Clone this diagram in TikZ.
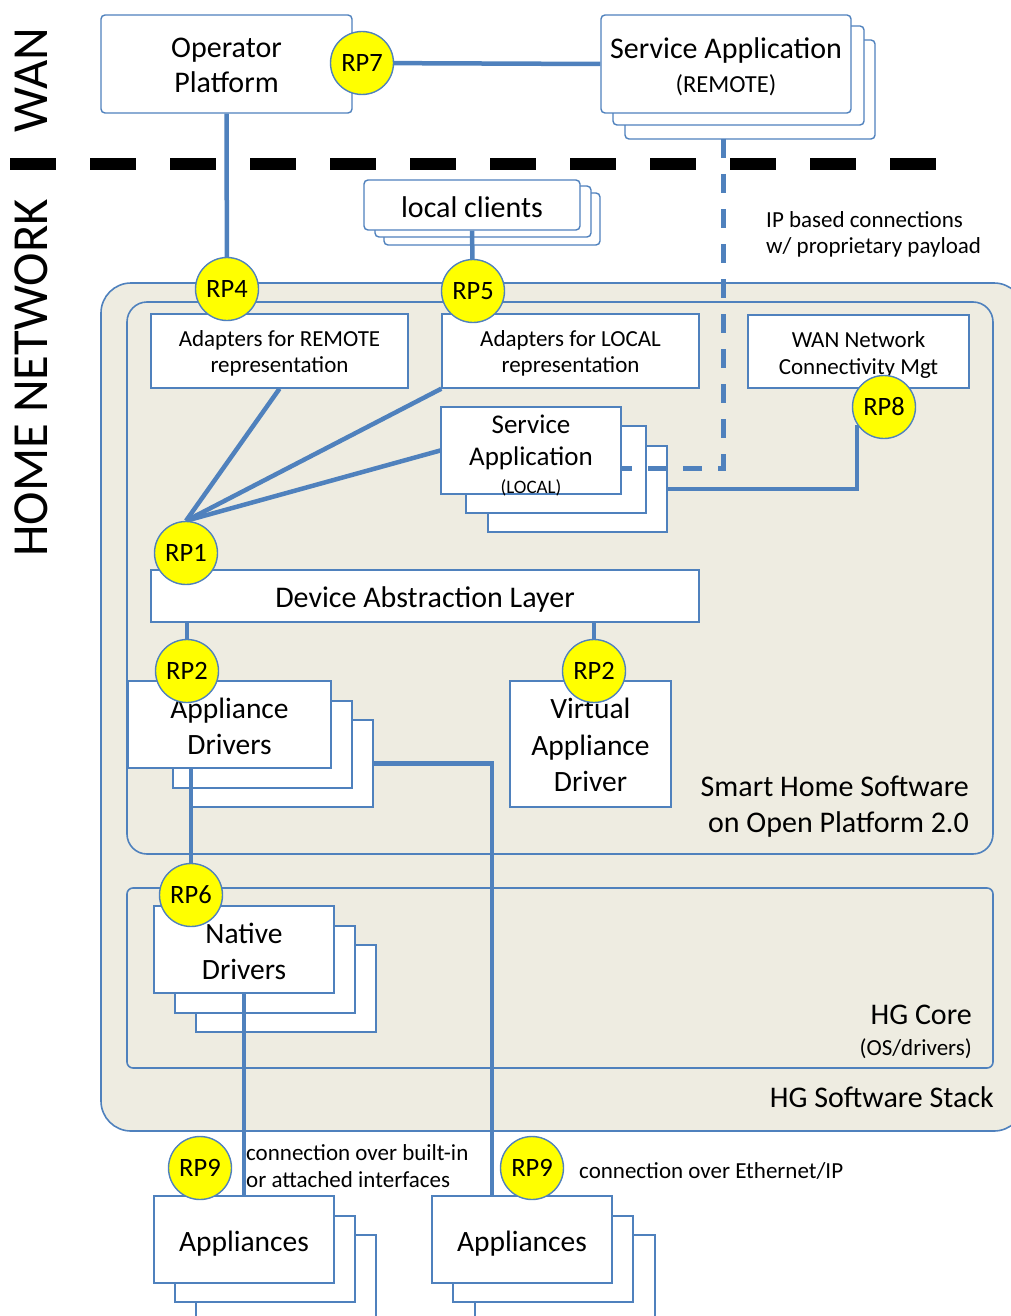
\documentclass[tikz,border=0pt]{standalone}
\usepackage{fontspec}
\setmainfont{Carlito}
\usetikzlibrary{fit}
\definecolor{lineblue}{RGB}{79,129,189}
\definecolor{stackbeige}{RGB}{238,236,225}
\definecolor{rpyellow}{RGB}{255,255,0}
\newcommand\fsz[2]{\fontsize{#1}{#2}\selectfont}
\pgfdeclarelayer{back}
\pgfdeclarelayer{links}
\pgfsetlayers{back,links,main}

\begin{document}
\begin{tikzpicture}[x=1pt,y=-1pt,
  container/.style={draw=lineblue, line width=1.6pt, fill=stackbeige},
  box/.style={draw=lineblue, line width=1.4pt, fill=white, inner sep=0pt},
  rbox/.style={box, rounded corners=4pt},
  size/.style 2 args={minimum width=#1, minimum height=#2},
  shadowbox/.style={draw=lineblue, line width=1.4pt, fill=white, inner sep=0pt},
  rshadowbox/.style={shadowbox, rounded corners=4pt},
  rp/.style={circle, draw=lineblue, line width=1.4pt, fill=rpyellow, minimum size=63, inner sep=0pt, font=\fsz{26.5}{26.5}},
  conn/.style={draw=lineblue, line width=4.5pt},
  dconn/.style={conn, line width=5pt, dash pattern=on 19pt off 16pt},
  lbl/.style={inner sep=0pt, text=black},
  boxtext/.style={lbl, align=center}
]
\useasboundingbox (0,0) rectangle (1011,1316);

\begin{pgfonlayer}{back}
% WAN / home network divider
\draw[line width=12pt, dash pattern=on 46pt off 34pt] (10,164) coordinate (divL) -- (936,164) coordinate (divR);

% software stack containers
\draw[container, rounded corners=30pt] (101,283) rectangle (1024,1131);
\draw[container, rounded corners=20pt] (127,302) rectangle (993,854);
\draw[container, rounded corners=6pt] (127,888) rectangle (993,1068);

% stacked (multiple instance) boxes, back layers
\node[rshadowbox, fit={(625,40)(875,139)}] (sar3) {};
\node[rshadowbox, fit={(613,26)(864,125)}] (sar2) {};
\node[rshadowbox, fit={(384,193)(600,245)}] (lc3) {};
\node[rshadowbox, fit={(375,186)(591,237)}] (lc2) {};
\node[shadowbox, fit={(488,446)(667,532)}] (sal3) {};
\node[shadowbox, fit={(466,426)(646,513)}] (sal2) {};
\node[shadowbox, fit={(192,720)(373,807)}] (ad3) {};
\node[shadowbox, fit={(173,701)(352,788)}] (ad2) {};
\node[shadowbox, fit={(196,945)(376,1032)}] (nd3) {};
\node[shadowbox, fit={(175,926)(355,1013)}] (nd2) {};
\node[shadowbox, fit={(196,1235)(376,1330)}] (apL3) {};
\node[shadowbox, fit={(175,1216)(355,1302)}] (apL2) {};
\node[shadowbox, fit={(475,1235)(655,1330)}] (apR3) {};
\node[shadowbox, fit={(453,1216)(633,1302)}] (apR2) {};
\end{pgfonlayer}

% side labels
\node[lbl, rotate=90, font=\fsz{50.5}{50.5}] (wan) at (31,80) {WAN};
\node[lbl, rotate=90, font=\fsz{50.5}{50.5}] (hn) at (31,378) {HOME NETWORK};

% connector end points
\coordinate (ipdrop) at (723,139);
\coordinate (ipin) at (621,468);
\coordinate (ethdrop) at (492,1196);

% front boxes
\node[rbox, size={251}{98}] (opp) at (226.5,64) {};
\node[rbox, size={250}{98}] (sar) at (726,64) {};
\node[rbox, size={216}{50}] (lc) at (472,205) {};
\node[box, size={257}{74}] (remA) at (279.5,351) {};
\node[box, size={257}{74}] (locA) at (570.5,351) {};
\node[box, size={221}{73}] (wanm) at (858.5,351.5) {};
\node[box, size={180}{87}] (sal) at (531,450.5) {};
\node[box, size={548}{52}] (dal) at (425,596) {};
\node[box, size={203}{87}] (ad) at (229.5,724.5) {};
\node[box, size={161}{126}] (vad) at (590.5,744) {};
\node[box, size={180}{87}] (nd) at (244,949.5) {};
\node[box, size={180}{87}] (apL) at (244,1239.5) {};
\node[box, size={180}{87}] (apR) at (522,1239.5) {};

% box texts
\node[boxtext, font=\fsz{30}{35}] (oppT) at ([yshift=-1pt]opp.center) {Operator\\Platform};
\node[boxtext, font=\fsz{30}{34}] (sarT) at ([yshift=-3pt]sar.center) {Service Application\\{\fsz{24.5}{34}(REMOTE)}};
\node[boxtext, font=\fsz{30}{34}] (lcT) at ([yshift=-2pt]lc.center) {local clients};
\node[boxtext, font=\fsz{23}{26}] (remAT) at ([yshift=-2pt]remA.center) {Adapters for REMOTE\\representation};
\node[boxtext, font=\fsz{23}{26}] (locAT) at ([yshift=-2pt]locA.center) {Adapters for LOCAL\\representation};
\node[boxtext, font=\fsz{23}{27}] (wanmT) at ([yshift=-3pt]wanm.center) {WAN Network\\Connectivity Mgt};
\node[boxtext, font=\fsz{27}{32}] (salT) at ([yshift=-5pt]sal.center) {Service\\Application\\[-4pt]{\fsz{19}{28}(LOCAL)}};
\node[boxtext, font=\fsz{30}{34}] (dalT) at ([yshift=-3pt]dal.center) {Device Abstraction Layer};
\node[boxtext, font=\fsz{29.5}{36}] (adT) at ([yshift=-2pt]ad.center) {Appliance\\Drivers};
\node[boxtext, font=\fsz{29.5}{36.5}] (vadT) at ([yshift=-1pt]vad.center) {Virtual\\Appliance\\Driver};
\node[boxtext, font=\fsz{29.5}{36}] (ndT) at ([yshift=-2pt]nd.center) {Native\\Drivers};
\node[boxtext, font=\fsz{29.5}{34}] (apLT) at ([yshift=-4pt]apL.center) {Appliances};
\node[boxtext, font=\fsz{29.5}{34}] (apRT) at ([yshift=-4pt]apR.center) {Appliances};

% reference points
\node[rp] (rp7) at (362,63) {RP7};
\node[rp] (rp4) at (227,289) {RP4};
\node[rp] (rp5) at (473,291) {RP5};
\node[rp] (rp8) at (884,407) {RP8};
\node[rp] (rp1) at (186,553) {RP1};
\node[rp] (rp2a) at (187,671) {RP2};
\node[rp] (rp2b) at (594,671) {RP2};
\node[rp] (rp6) at (191,895) {RP6};
\node[rp] (rp9a) at (200,1168) {RP9};
\node[rp] (rp9b) at (532,1168) {RP9};

% connectors, kept below the boxes and reference points
\begin{pgfonlayer}{links}
\draw[conn] (rp7) -- (sar.west);
\draw[conn] (opp.south) -- (rp4);
\draw[conn] (lc.south) -- (rp5);
\draw[dconn] (ipdrop) |- (ipin);
\draw[conn] (remA.south) -- (rp1.north);
\draw[conn] (locA.south west) -- (rp1.north);
\draw[conn] (sal.west) -- (rp1.north);
\draw[conn] (rp8.213) |- (sal3.east);
\draw[conn] (rp2a |- dal.south) -- (rp2a);
\draw[conn] (rp2b |- dal.south) -- (rp2b);
\draw[conn] (rp6 |- ad.south) -- (rp6);
\draw[conn] (ad3.east) -| (ethdrop);
\draw[conn] (nd.south) -- (apL.north);
\end{pgfonlayer}

% labels
\node[lbl, anchor=east, align=right, font=\fsz{30}{36}] (shs) at (969,807) {Smart Home Software\\on Open Platform 2.0};
\node[lbl, anchor=east, align=right, font=\fsz{30}{31}] (hgc) at (972,1032) {HG Core\\{\fsz{23}{31}(OS/drivers)}};
\node[lbl, anchor=east, font=\fsz{30}{35}] (hgs) at (994,1097) {HG Software Stack};
\node[lbl, anchor=west, align=left, font=\fsz{23}{26}] (ipt) at (766,234) {IP based connections\\w/ proprietary payload};
\node[lbl, anchor=west, align=left, font=\fsz{23}{27}] (bit) at (246,1166) {connection over built-in\\or attached interfaces};
\node[lbl, anchor=west, font=\fsz{23}{26}] (eth) at (579,1171) {connection over Ethernet/IP};
\end{tikzpicture}
\end{document}
